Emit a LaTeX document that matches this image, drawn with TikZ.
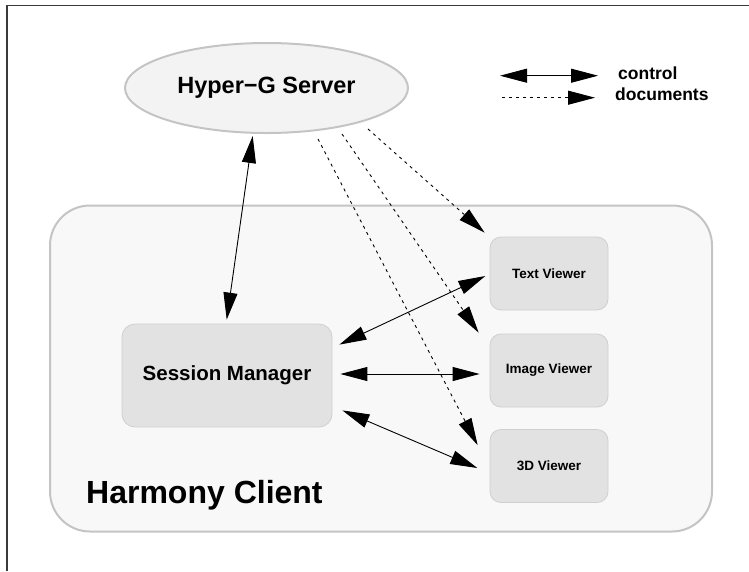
\documentclass[tikz,border=0pt]{standalone}
\usepackage{fontspec}
\setmainfont{Liberation Sans}
\usetikzlibrary{arrows.meta,shapes.geometric,calc}
\definecolor{framecol}{HTML}{3A3A3A}
\definecolor{edgegray}{HTML}{C4C4C4}
\definecolor{boxedge}{HTML}{CFCFCF}
\definecolor{boxfill}{HTML}{E2E2E2}
\definecolor{clientfill}{HTML}{F8F8F8}
\definecolor{serverfill}{HTML}{F3F3F3}
\tikzset{
  bigtip/.tip={Triangle[length=27pt,width=14pt]},
  ctrl/.style={draw=black,line width=0.9pt,{bigtip}-{bigtip}},
  docs/.style={draw=black,line width=0.9pt,dash pattern=on 3pt off 4pt,-{bigtip}},
  viewer/.style={draw=boxedge,fill=boxfill,line width=0.8pt,rounded corners=11pt,
    minimum width=118pt,minimum height=73pt,inner sep=0pt,
    font=\fontsize{13.5}{15}\selectfont\bfseries},
  smbox/.style={draw=boxedge,fill=boxfill,line width=0.8pt,rounded corners=13pt,
    minimum width=210pt,minimum height=103pt,inner sep=0pt,
    font=\fontsize{20.5}{22}\selectfont\bfseries},
  clientbox/.style={draw=edgegray,fill=clientfill,line width=2pt,rounded corners=40pt,
    minimum width=662pt,minimum height=326pt,inner sep=0pt},
  servernode/.style={ellipse,draw=edgegray,fill=serverfill,line width=2pt,
    minimum width=283pt,minimum height=90pt,inner sep=0pt,
    font=\fontsize{23.5}{26}\selectfont\bfseries},
  legendtext/.style={font=\fontsize{17.5}{20}\selectfont\bfseries,inner sep=0pt,anchor=base west},
}
\begin{document}
\begin{tikzpicture}[x=1pt,y=-1pt]
\useasboundingbox (0,0) rectangle (749,571);
% frame
\draw[framecol,line width=1.5pt] (7,571) -- (7,5.5) -- (749,5.5);
% client area
\node[clientbox] (client) at (381,368.5) {};
\node[anchor=base west,inner sep=0pt,font=\fontsize{32}{34}\selectfont\bfseries] (clientlabel) at (86,503) {Harmony Client};
% server
\node[servernode] (server) at (266.5,88) {Hyper−G Server};
% boxes
\node[smbox] (sm) at (227,375.5) {Session Manager};
\node[viewer] (tv) at (549,273.5) {Text Viewer};
\node[viewer] (iv) at (549,370.5) {Image Viewer};
\node[viewer] (dv) at (549,466) {3D Viewer};
% control arrows
\draw[ctrl] ($(sm.north)+(-0.3,-4)$) -- ($(server.south)+(-13.8,2)$);
\draw[ctrl] ($(sm.north east)+(7,21)$) -- ($(tv.west)+(-4.3,2.5)$);
\draw[ctrl] ($(sm.east)+(8,-1.5)$) -- ($(iv.west)+(-10,3.5)$);
\draw[ctrl] ($(sm.south east)+(10,-17)$) -- ($(dv.west)+(-12.3,2)$);
% document arrows
\draw[docs] ($(server.south)+(51.5,5)$) -- ($(dv.north west)+(-12,16)$);
\draw[docs] ($(server.south)+(75.5,0)$) -- ($(iv.north west)+(-11,-1)$);
\draw[docs] ($(server.south)+(101.5,-5)$) -- ($(tv.north west)+(-5,-4)$);
% legend
\coordinate (lgA) at (500,75.7);
\coordinate (lgB) at (598,75.7);
\coordinate (lgC) at (502,97.7);
\coordinate (lgD) at (595,97.7);
\draw[ctrl] (lgA) -- (lgB);
\draw[docs] (lgC) -- (lgD);
\node[legendtext] (lgctrl) at (618,79) {control};
\node[legendtext] (lgdocs) at (615,100.7) {documents};
\end{tikzpicture}
\end{document}
